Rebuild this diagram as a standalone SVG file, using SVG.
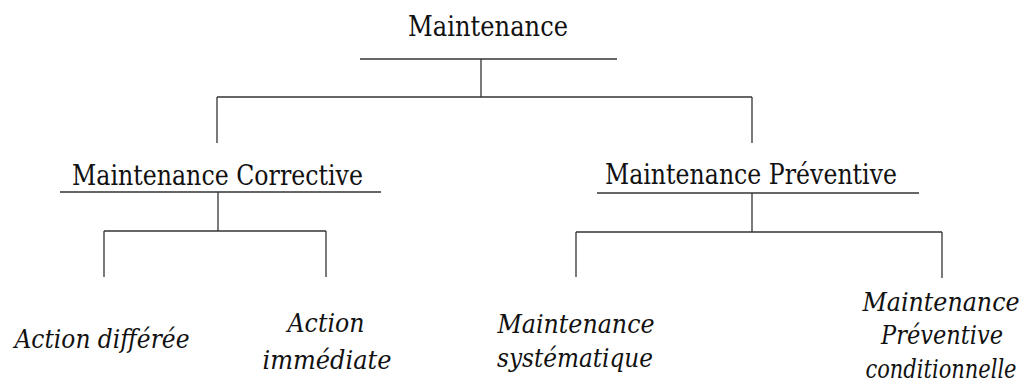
<svg xmlns="http://www.w3.org/2000/svg" width="1034" height="391" viewBox="0 0 1034 391">
<style>
text{font-family:"DejaVu Serif","Liberation Serif",serif;font-size:27px;fill:#111;text-anchor:middle}
.i{font-style:italic;font-size:26px}
line{stroke:#333;stroke-width:1.3}
</style>
<rect width="1034" height="391" fill="#fff"/>
<g id="n-maintenance">
<text x="488" y="36" textLength="160" lengthAdjust="spacingAndGlyphs">Maintenance</text>
<line x1="360" y1="59" x2="617" y2="59"/>
</g>
<g id="n-corrective">
<text x="217.5" y="185" textLength="291" lengthAdjust="spacingAndGlyphs">Maintenance Corrective</text>
<line x1="60" y1="192" x2="381" y2="192"/>
</g>
<g id="n-preventive">
<text x="751" y="184" textLength="292" lengthAdjust="spacingAndGlyphs">Maintenance Préventive</text>
<line x1="597" y1="193" x2="919" y2="193"/>
</g>
<g id="n-differee">
<text class="i" x="102" y="348" textLength="175" lengthAdjust="spacingAndGlyphs">Action différée</text>
</g>
<g id="n-immediate">
<text class="i" x="326" y="332" textLength="77" lengthAdjust="spacingAndGlyphs">Action</text>
<text class="i" x="327" y="369" textLength="129" lengthAdjust="spacingAndGlyphs">immédiate</text>
</g>
<g id="n-systematique">
<text class="i" x="576" y="333" textLength="157" lengthAdjust="spacingAndGlyphs">Maintenance</text>
<text class="i" x="575" y="367" textLength="156" lengthAdjust="spacingAndGlyphs">systématique</text>
</g>
<g id="n-conditionnelle">
<text class="i" x="941" y="311" textLength="157" lengthAdjust="spacingAndGlyphs">Maintenance</text>
<text class="i" x="942" y="344" textLength="122" lengthAdjust="spacingAndGlyphs">Préventive</text>
<text class="i" x="941" y="378" textLength="151" lengthAdjust="spacingAndGlyphs">conditionnelle</text>
</g>
<g id="connectors">
<line x1="481" y1="59" x2="481" y2="97"/>
<line x1="217" y1="97" x2="752" y2="97"/>
<line x1="217" y1="97" x2="217" y2="143"/>
<line x1="752" y1="97" x2="752" y2="143"/>
<line x1="218" y1="192" x2="218" y2="231"/>
<line x1="104" y1="231" x2="326" y2="231"/>
<line x1="104" y1="231" x2="104" y2="277"/>
<line x1="326" y1="231" x2="326" y2="277"/>
<line x1="752" y1="193" x2="752" y2="232"/>
<line x1="576" y1="232" x2="942" y2="232"/>
<line x1="576" y1="232" x2="576" y2="277"/>
<line x1="942" y1="232" x2="942" y2="278"/>
</g>
</svg>
